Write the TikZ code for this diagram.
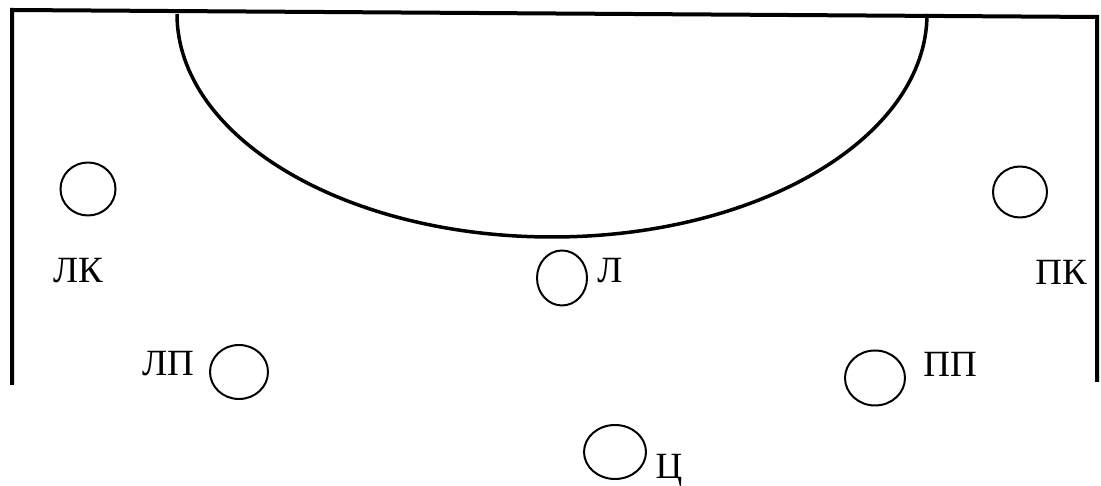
\documentclass[tikz,border=0pt]{standalone}
\usepackage{fontspec}
\setmainfont{Liberation Serif}
\usepackage{tikz}
\usetikzlibrary{shapes.geometric}

\begin{document}
\begin{tikzpicture}[x=1pt, y=1pt,
    border/.style={draw=black, line width=4pt},
    zone/.style={draw=black, line width=3.5pt},
    player/.style={ellipse, draw=black, line width=2pt, inner sep=0pt},
    lbl/.style={anchor=base, inner sep=0pt, font=\fontsize{37}{40}\selectfont}
]
    \useasboundingbox (0,0) rectangle (1101,486);

    % court frame and zone
    \draw[border] (12,101) -- (12,476) -- (1097,469) -- (1097,104);
    \draw[zone] (177,472) arc[start angle=180, end angle=360, x radius=375, y radius=223];

    % players
    \node[player, minimum width=55pt, minimum height=53pt] (lk) at (88,297)  {};
    \node[player, minimum width=54pt, minimum height=51pt] (pk) at (1020,294) {};
    \node[player, minimum width=50pt, minimum height=55pt] (l)  at (562,208) {};
    \node[player, minimum width=58pt, minimum height=54pt] (lp) at (239,114) {};
    \node[player, minimum width=60pt, minimum height=55pt] (pp) at (875,108) {};
    \node[player, minimum width=62pt, minimum height=54pt] (c)  at (615,34)  {};

    % labels
    \node[lbl] (lkt) at (78,203)   {ЛК};
    \node[lbl] (pkt) at (1061,201) {ПК};
    \node[lbl] (lt)  at (610,203)  {Л};
    \node[lbl] (lpt) at (168,110)  {ЛП};
    \node[lbl] (ppt) at (950,109)  {ПП};
    \node[lbl] (ct)  at (669,7)    {Ц};
\end{tikzpicture}
\end{document}
